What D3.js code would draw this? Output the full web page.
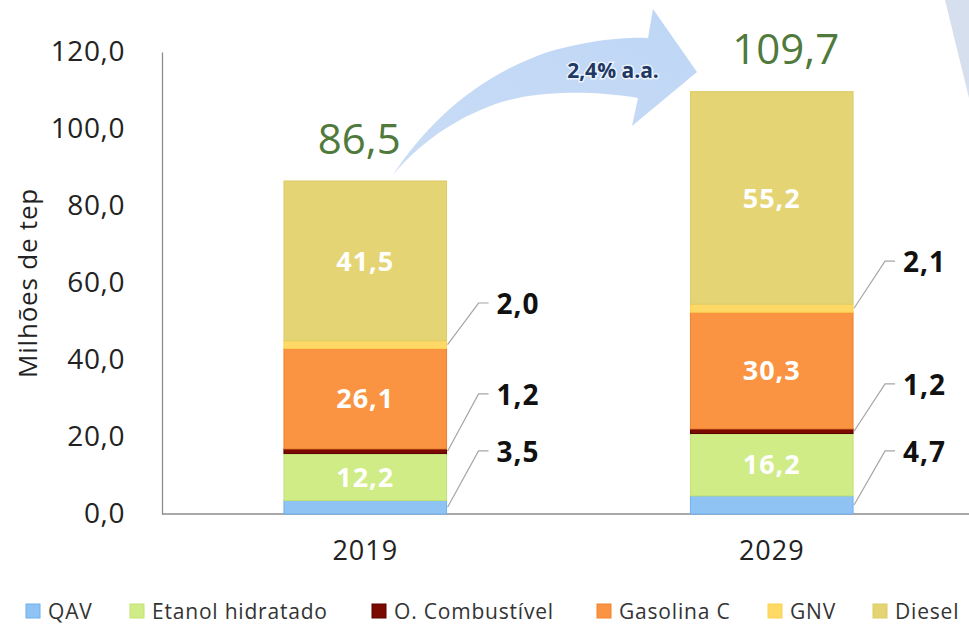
<!DOCTYPE html>
<html>
<head>
<meta charset="utf-8">
<script src="https://cdn.jsdelivr.net/npm/d3@7"></script>
<style>
  body { margin: 0; background: #fff; }
  text { font-family: "Open Sans", "Noto Sans", sans-serif; }
</style>
</head>
<body>
<script>
// dados
const years = ["2019", "2029"];
const fuels = ["QAV", "Etanol hidratado", "O. Combustível", "Gasolina C", "GNV", "Diesel"];
const values2019 = [3.5, 12.2, 1.2, 26.1, 2.0, 41.5];
const values2029 = [4.7, 16.2, 1.2, 30.3, 2.1, 55.2];
const totals = [86.5, 109.7];
const yTicks = [0, 20, 40, 60, 80, 100, 120];
const growthLabel = "2,4% a.a.";

// quais ficam dentro da barra e quais com linha de chamada
const insideIdx = [1, 3, 5];
const calloutIdx = [0, 2, 4];
// altura (em valor) do cotovelo de cada chamada, por ano
const calloutLevel = [[16.4, 31.2, 54.8], [16.4, 33.8, 65.7]];

const cores = ["#8ec3f4", "#d0ec86", "#7a0a00", "#fa9442", "#ffd966", "#e5d474"];
const coresBorda = ["#6fb0ee", "#c2e275", "#5a0000", "#f0822c", "#fbd152", "#dccb66"];

const W = 969, H = 627;
const svg = d3.select("body").append("svg").attr("width", W).attr("height", H);

const fmt = v => d3.format(".1f")(v).replace(".", ",");

const y = d3.scaleLinear().domain([0, 120]).range([514, 52]);
const x = d3.scaleBand().domain(years).range([162, 975]).paddingInner(0.6).paddingOuter(0.3);
const bw = x.bandwidth();

// decoracao no canto direito
svg.append("path")
  .attr("d", "M945,0 L969,0 L969,98 Z")
  .attr("fill", "#d5dfed");

// eixo y
const yAxis = svg.append("g").attr("transform", "translate(162,0)")
  .call(d3.axisLeft(y).tickValues(yTicks).tickSize(0).tickPadding(37).tickFormat(fmt));
yAxis.select(".domain").attr("stroke", "#8c8c8c").attr("stroke-width", 1.3);
yAxis.selectAll("text").attr("font-size", 28).attr("fill", "#222")
  .attr("letter-spacing", 0.6)
  .style("font-family", "'Open Sans', sans-serif");

// eixo x
const xAxis = svg.append("g").attr("transform", "translate(0,514)")
  .call(d3.axisBottom(x).tickSize(0).tickPadding(27));
xAxis.select(".domain").attr("d", "M162,0H969").attr("stroke", "#8c8c8c").attr("stroke-width", 1.3);
xAxis.selectAll("text").attr("font-size", 27).attr("fill", "#222")
  .attr("letter-spacing", 1)
  .style("font-family", "'Open Sans', sans-serif");

// titulo do eixo
svg.append("text")
  .attr("transform", "translate(37,283) rotate(-90)")
  .attr("text-anchor", "middle")
  .attr("font-size", 26)
  .attr("letter-spacing", 0.8)
  .attr("fill", "#222")
  .text("Milhões de tep");

// pilhas
const rows = years.map((yr, i) => {
  const o = { year: yr };
  const vals = i === 0 ? values2019 : values2029;
  fuels.forEach((f, j) => o[f] = vals[j]);
  return o;
});
const series = d3.stack().keys(fuels)(rows);

series.forEach((s, j) => {
  svg.append("g").selectAll("rect")
    .data(s)
    .join("rect")
    .attr("x", d => x(d.data.year))
    .attr("y", d => y(d[1]))
    .attr("width", bw)
    .attr("height", d => y(d[0]) - y(d[1]))
    .attr("fill", cores[j])
    .attr("stroke", coresBorda[j])
    .attr("stroke-width", 1);
});

// rotulos internos
insideIdx.forEach(j => {
  svg.append("g").selectAll("text")
    .data(series[j])
    .join("text")
    .attr("x", d => x(d.data.year) + bw / 2)
    .attr("y", d => y((d[0] + d[1]) / 2))
    .attr("dy", "0.36em")
    .attr("text-anchor", "middle")
    .attr("font-size", 27)
    .attr("letter-spacing", 1)
    .attr("font-weight", "bold")
    .attr("fill", "#fff")
    .text(d => fmt(d[1] - d[0]));
});

// chamadas
calloutIdx.forEach((j, k) => {
  series[j].forEach((d, i) => {
    const x0 = x(d.data.year) + bw + 1;
    const y0 = y((d[0] + d[1]) / 2);
    const ye = y(calloutLevel[i][k]);
    svg.append("path")
      .attr("d", `M${x0},${y0} L${x0 + 31},${ye} H${x0 + 41}`)
      .attr("fill", "none")
      .attr("stroke", "#a6a6a6")
      .attr("stroke-width", 1.2);
    svg.append("text")
      .attr("x", x0 + 49)
      .attr("y", ye)
      .attr("dy", "0.38em")
      .attr("font-size", 28)
      .attr("letter-spacing", 1)
      .attr("font-weight", "bold")
      .attr("fill", "#111")
      .text(fmt(d[1] - d[0]));
  });
});

// seta de crescimento
const grad = svg.append("defs").append("linearGradient")
  .attr("id", "gseta").attr("x1", 0).attr("y1", 1).attr("x2", 1).attr("y2", 0);
grad.append("stop").attr("offset", 0).attr("stop-color", "#c9dcf5");
grad.append("stop").attr("offset", 1).attr("stop-color", "#bed6f6");

svg.append("path")
  .attr("d", "M393,175 C428,122 478,76 548,52 C590,40 625,37 648,38 L653,9 L697,72 L632,126 L638,98 C598,91 545,90 505,101 C462,114 422,140 393,175 Z")
  .attr("fill", "url(#gseta)");

svg.append("text")
  .attr("x", 613).attr("y", 71)
  .attr("dy", "0.35em")
  .attr("text-anchor", "middle")
  .attr("font-size", 21)
  .attr("font-weight", "bold")
  .attr("fill", "#1f3864")
  .attr("stroke", "#eaf2fc").attr("stroke-width", 3).attr("paint-order", "stroke")
  .text(growthLabel);

// totais
const totalDx = [-6, 14];
svg.append("g").selectAll("text")
  .data(totals)
  .join("text")
  .attr("x", (d, i) => x(years[i]) + bw / 2 + totalDx[i])
  .attr("y", (d, i) => y(d) - 42)
  .attr("dy", "0.35em")
  .attr("text-anchor", "middle")
  .attr("font-size", 42)
  .attr("fill", "#4f7a3c")
  .text(d => fmt(d));

// legenda
const legX = [26, 130, 372, 597, 768, 873];
const leg = svg.append("g").selectAll("g")
  .data(fuels)
  .join("g")
  .attr("transform", (d, i) => `translate(${legX[i]},604)`);
leg.append("rect")
  .attr("width", 14).attr("height", 14)
  .attr("fill", (d, i) => cores[i])
  .attr("stroke", (d, i) => coresBorda[i]);
leg.append("text")
  .attr("x", 22).attr("y", 7)
  .attr("dy", "0.36em")
  .attr("font-size", 21)
  .attr("letter-spacing", 0.8)
  .attr("fill", "#333")
  .text(d => d);
</script>
</body>
</html>
